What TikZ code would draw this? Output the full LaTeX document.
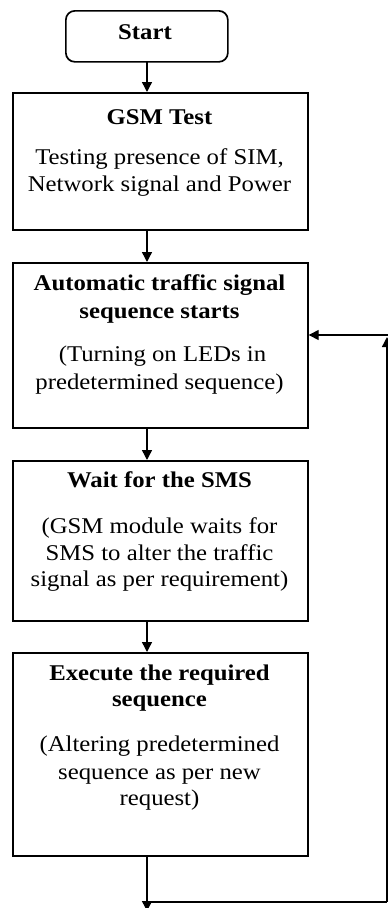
\documentclass[tikz,border=0pt]{standalone}
\usepackage{fontspec}
\setmainfont{Liberation Serif}[FakeStretch=1.1]
\usetikzlibrary{arrows.meta}
\tikzset{
  box/.style={draw=black, line width=1.7pt, inner sep=0pt, anchor=north west},
  ln/.style={inner sep=0pt, anchor=center, text height=15pt, text depth=5pt,
    font=\fontsize{22.5}{26}\selectfont},
  ttl/.style={ln, font=\fontsize{22.5}{26}\selectfont\bfseries},
  conn/.style={line width=1.4pt, -{Triangle[length=10pt,width=10pt]}},
  plain/.style={line width=1.4pt}
}
\begin{document}
\begin{tikzpicture}[x=1pt,y=-1pt]
\useasboundingbox (0,0) rectangle (388,908);
\clip (0,0) rectangle (388,908);
% boxes
\node[box, rounded corners=9pt, minimum width=162pt, minimum height=51pt] (start) at (65,10) {};
\node[box, minimum width=295pt, minimum height=137pt] (gsm) at (12,92) {};
\node[box, minimum width=295pt, minimum height=165pt] (auto) at (12,262) {};
\node[box, minimum width=295pt, minimum height=160pt] (wait) at (12,460) {};
\node[box, minimum width=295pt, minimum height=203pt] (exec) at (12,652) {};
% texts
\node[ttl] (t0) at (145,34) {Start};
\node[ttl] (t1) at (159.5,119) {GSM Test};
\node[ln] (t1a) at (159.5,159) {Testing presence of SIM,};
\node[ln] (t1b) at (159.5,186) {Network signal and Power};
\node[ttl] (t2) at (159.5,285) {Automatic traffic signal};
\node[ttl] (t2b) at (159.5,313) {sequence starts};
\node[ln] (t2c) at (162.5,356) {(Turning on LEDs in};
\node[ln] (t2d) at (159.5,384) {predetermined sequence)};
\node[ttl] (t3) at (159.5,482) {Wait for the SMS};
\node[ln] (t3a) at (159.5,528) {(GSM module waits for};
\node[ln] (t3b) at (159.5,555) {SMS to alter the traffic};
\node[ln] (t3c) at (159.5,581) {signal as per requirement)};
\node[ttl] (t4) at (159.5,675) {Execute the required};
\node[ttl] (t4b) at (159.5,701) {sequence};
\node[ln] (t4c) at (159.5,746) {(Altering predetermined};
\node[ln] (t4d) at (159.5,774) {sequence as per new};
\node[ln] (t4e) at (159.5,800) {request)};
% connectors
\coordinate (s) at (147,61);
\draw[conn] (s) -- (s |- gsm.north);
\draw[conn] (s |- gsm.south) -- (s |- auto.north);
\draw[conn] (s |- auto.south) -- (s |- wait.north);
\draw[conn] (s |- wait.south) -- (s |- exec.north);
\coordinate (bot) at (147,911);
\draw[conn] (s |- exec.south) -- (bot);
\coordinate (fbL) at (149,902);
\coordinate (fbR) at (387,902);
\coordinate (fbT) at (387,337);
\draw[plain] (fbL) -- (fbR);
\draw[conn] (fbR) -- (fbT);
\coordinate (inR) at (392,335);
\draw[conn] (inR) -- (inR -| auto.east);
\end{tikzpicture}
\end{document}
